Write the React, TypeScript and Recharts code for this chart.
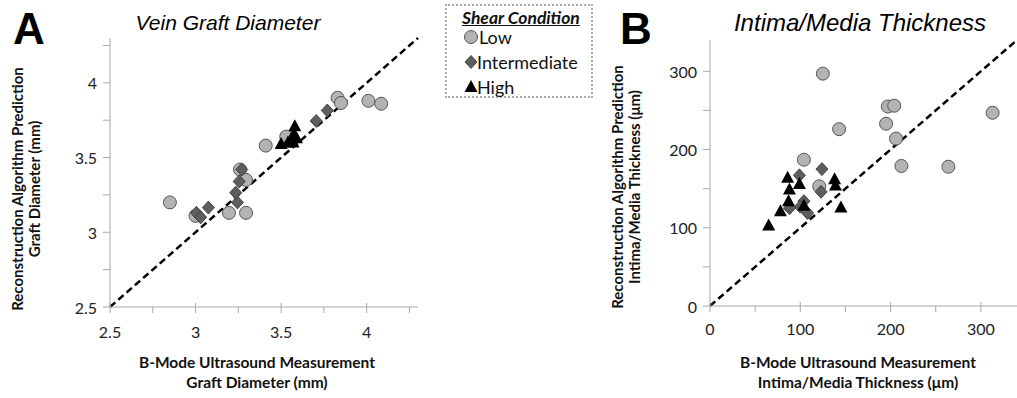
import React from 'react';
import { ScatterChart, Scatter, XAxis, YAxis, ReferenceLine } from 'recharts';

// Panel A: vein graft diameter (mm)
const diamLow = [
  { x: 2.85, y: 3.2 }, { x: 3.0, y: 3.11 }, { x: 3.195, y: 3.13 }, { x: 3.295, y: 3.13 },
  { x: 3.26, y: 3.42 }, { x: 3.295, y: 3.35 }, { x: 3.41, y: 3.58 }, { x: 3.53, y: 3.64 },
  { x: 3.83, y: 3.9 }, { x: 3.85, y: 3.865 }, { x: 4.01, y: 3.88 }, { x: 4.085, y: 3.86 },
];
const diamMid = [
  { x: 3.005, y: 3.13 }, { x: 3.03, y: 3.1 }, { x: 3.075, y: 3.165 }, { x: 3.245, y: 3.2 },
  { x: 3.235, y: 3.265 }, { x: 3.255, y: 3.34 }, { x: 3.27, y: 3.42 }, { x: 3.705, y: 3.745 },
  { x: 3.77, y: 3.815 },
];
const diamHigh = [
  { x: 3.5, y: 3.59 }, { x: 3.54, y: 3.6 }, { x: 3.56, y: 3.62 }, { x: 3.575, y: 3.66 },
  { x: 3.58, y: 3.71 }, { x: 3.59, y: 3.63 }, { x: 3.57, y: 3.6 },
];
const diamDomain = [2.5, 4.3];
const diamTicks = [2.5, 2.75, 3, 3.25, 3.5, 3.75, 4, 4.25];
const diamMajor = [2.5, 3, 3.5, 4];

// Panel B: intima/media thickness (um)
const imtLow = [
  { x: 125, y: 297 }, { x: 197, y: 255 }, { x: 204, y: 256 }, { x: 195, y: 233 },
  { x: 206, y: 214 }, { x: 143, y: 226 }, { x: 313, y: 247 }, { x: 104, y: 187 },
  { x: 212, y: 179 }, { x: 264, y: 178 }, { x: 121, y: 153 },
];
const imtMid = [
  { x: 124, y: 175 }, { x: 99, y: 167 }, { x: 123, y: 146 }, { x: 104, y: 134 },
  { x: 100, y: 127 }, { x: 88, y: 125 }, { x: 108, y: 119 },
];
const imtHigh = [
  { x: 65, y: 103 }, { x: 78, y: 121 }, { x: 87, y: 134 }, { x: 88, y: 149 },
  { x: 86, y: 164 }, { x: 99, y: 156 }, { x: 104, y: 128 }, { x: 138, y: 162 },
  { x: 139, y: 154 }, { x: 145, y: 126 },
];
const imtDomain = [0, 340];
const imtTicks = [0, 50, 100, 150, 200, 250, 300];
const imtMajor = [0, 100, 200, 300];

const FONT = 'Lato, "Open Sans", sans-serif';
const ARIAL = '"Liberation Sans", Arial, sans-serif';
const AXIS = '#a8a8a8';

const Circle = (p: any) => (
  <circle cx={p.cx} cy={p.cy} r={6.5} fill="#b3b3b3" stroke="#555" strokeWidth={1} />
);
const Diamond = (p: any) => (
  <path
    d={`M${p.cx},${p.cy - 6.5} L${p.cx + 6},${p.cy} L${p.cx},${p.cy + 6.5} L${p.cx - 6},${p.cy} Z`}
    fill="#5e5e5e" stroke="#444" strokeWidth={1}
  />
);
const Triangle = (p: any) => (
  <path
    d={`M${p.cx},${p.cy - 7} L${p.cx + 6.5},${p.cy + 5} L${p.cx - 6.5},${p.cy + 5} Z`}
    fill="#000"
  />
);

const xTick = (majors: number[], dy: number) => (props: any) => {
  const { x, y, payload } = props;
  const major = majors.includes(payload.value);
  return (
    <g>
      <line x1={x} x2={x} y1={major ? y - 4 : y} y2={y + 6} stroke={AXIS} />
      {major && (
        <text x={x} y={y + dy} textAnchor="middle" dominantBaseline="central"
          fontFamily={FONT} fontSize={16} fill="#222">{payload.value}</text>
      )}
    </g>
  );
};

const yTick = (majors: number[]) => (props: any) => {
  const { x, y, payload } = props;
  const major = majors.includes(payload.value);
  return (
    <g>
      <line x1={x - 7} x2={x} y1={y} y2={y} stroke={AXIS} />
      {major && (
        <text x={x - 13} y={y} textAnchor="end" dominantBaseline="central"
          fontFamily={FONT} fontSize={16} fill="#222">{payload.value}</text>
      )}
    </g>
  );
};

const abs = (s: React.CSSProperties): React.CSSProperties => ({ position: 'absolute', fontFamily: FONT, color: '#111', ...s });

function Panel(props: {
  left: number; width: number; top: number; bottom: number; yw: number; ml: number; mr: number;
  low: any[]; mid: any[]; high: any[]; domain: number[]; ticks: number[]; majors: number[]; dy: number;
}) {
  const { domain } = props;
  return (
    <div style={{ position: 'absolute', left: props.left, top: 0 }}>
      <ScatterChart width={props.width} height={398}
        margin={{ top: props.top, right: props.mr, bottom: props.bottom, left: props.ml }}>
        <XAxis type="number" dataKey="x" domain={domain} ticks={props.ticks} interval={0}
          allowDataOverflow tickSize={0} tickMargin={0} tickLine={false} height={30}
          stroke={AXIS} tick={xTick(props.majors, props.dy)} />
        <YAxis type="number" dataKey="y" domain={domain} ticks={props.ticks} interval={0}
          allowDataOverflow tickSize={0} tickMargin={0} tickLine={false} width={props.yw}
          stroke={AXIS} tick={yTick(props.majors)} />
        <ReferenceLine segment={[{ x: domain[0], y: domain[0] }, { x: domain[1], y: domain[1] }]}
          stroke="#000" strokeWidth={2.5} strokeDasharray="7 4" />
        <Scatter data={props.low} shape={Circle} isAnimationActive={false} />
        <Scatter data={props.mid} shape={Diamond} isAnimationActive={false} />
        <Scatter data={props.high} shape={Triangle} isAnimationActive={false} />
      </ScatterChart>
    </div>
  );
}

const yLabel = (cx: number, cy: number, l1: string, l2: string) => (
  <div style={abs({ left: cx - 150, top: cy - 18, width: 300, textAlign: 'center', transform: 'rotate(-90deg)',
    fontWeight: 700, fontSize: 15, lineHeight: '17px' })}>
    {l1}<br />{l2}
  </div>
);
const xLabel = (cx: number, l1: string, l2: string) => (
  <div style={abs({ left: cx - 150, top: 352, width: 300, textAlign: 'center', fontWeight: 700, fontSize: 15.5, lineHeight: '20px' })}>
    {l1}<br />{l2}
  </div>
);

export default function App() {
  return (
    <div style={{ position: 'absolute', left: 0, top: 0, width: 1017, height: 398, background: '#fff', overflow: 'hidden' }}>
      <Panel left={0} width={430} top={38} bottom={61} yw={50} ml={60} mr={12}
        low={diamLow} mid={diamMid} high={diamHigh} domain={diamDomain} ticks={diamTicks} majors={diamMajor} dy={24} />
      <Panel left={590} width={427} top={40} bottom={62} yw={60} ml={60} mr={0}
        low={imtLow} mid={imtMid} high={imtHigh} domain={imtDomain} ticks={imtTicks} majors={imtMajor} dy={22} />

      <div style={abs({ left: 13, top: 7, fontFamily: ARIAL, fontSize: 44, lineHeight: '44px', fontWeight: 700, color: '#000' })}>A</div>
      <div style={abs({ left: 620, top: 7, fontFamily: ARIAL, fontSize: 44, lineHeight: '44px', fontWeight: 700, color: '#000' })}>B</div>
      <div style={abs({ left: 78, top: 12, width: 300, textAlign: 'center', fontFamily: ARIAL, fontSize: 21, lineHeight: '21px', fontStyle: 'italic', color: '#000' })}>Vein Graft Diameter</div>
      <div style={abs({ left: 700, top: 11, width: 320, textAlign: 'center', fontFamily: ARIAL, fontSize: 24, lineHeight: '24px', fontStyle: 'italic', color: '#000' })}>Intima/Media Thickness</div>

      {yLabel(26, 190, 'Reconstruction Algorithm Prediction', 'Graft Diameter (mm)')}
      {yLabel(626, 188, 'Reconstruction Algorithm Prediction', 'Intima/Media Thickness (\u03bcm)')}
      {xLabel(257, 'B-Mode Ultrasound Measurement', 'Graft Diameter (mm)')}
      {xLabel(858, 'B-Mode Ultrasound Measurement', 'Intima/Media Thickness (\u03bcm)')}

      <div style={abs({ left: 445, top: 4, width: 148, height: 94, border: '2px dotted #aaa', boxSizing: 'border-box' })}>
        <div style={{ position: 'absolute', left: 15, top: 1, fontSize: 17.5, fontWeight: 700, fontStyle: 'italic', textDecoration: 'underline' }}>Shear Condition</div>
        <svg width={20} height={90} style={{ position: 'absolute', left: 14, top: 0 }}>
          <Circle cx={10} cy={31} />
          <Diamond cx={10} cy={56} />
          <Triangle cx={10} cy={81} />
        </svg>
        <div style={{ position: 'absolute', left: 32, top: 21, fontSize: 18, lineHeight: '20px' }}>Low</div>
        <div style={{ position: 'absolute', left: 30, top: 46, fontSize: 18, lineHeight: '20px' }}>Intermediate</div>
        <div style={{ position: 'absolute', left: 30, top: 71, fontSize: 18, lineHeight: '20px' }}>High</div>
      </div>
    </div>
  );
}
